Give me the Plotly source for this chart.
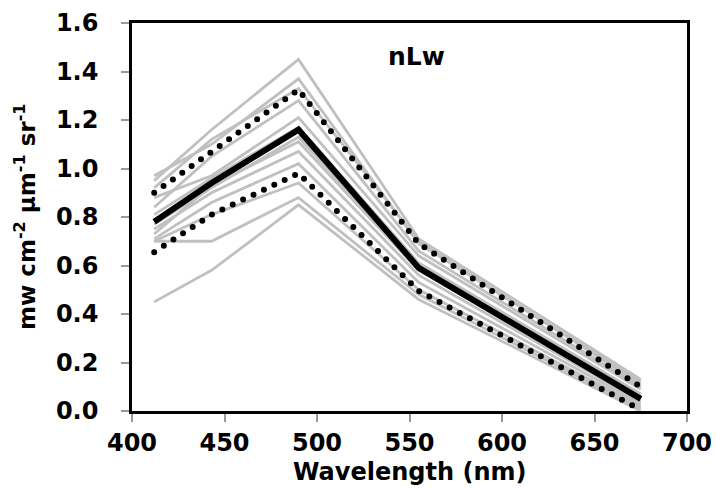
import plotly.graph_objects as go

# Band centre wavelengths (nm)
wavelength = [412, 443, 490, 555, 675]

# Individual nLw spectra (mW cm^-2 um^-1 sr^-1)
spec_01 = [0.95, 1.16, 1.45, 0.71, 0.13]
spec_02 = [0.97, 1.10, 1.37, 0.69, 0.12]
spec_03 = [0.92, 1.12, 1.33, 0.70, 0.11]
spec_04 = [0.84, 1.05, 1.28, 0.66, 0.10]
spec_05 = [0.88, 0.97, 1.21, 0.64, 0.09]
spec_06 = [0.81, 0.96, 1.17, 0.61, 0.07]
spec_07 = [0.77, 0.92, 1.13, 0.59, 0.06]
spec_08 = [0.73, 0.93, 1.11, 0.58, 0.05]
spec_09 = [0.75, 0.90, 1.07, 0.56, 0.04]
spec_10 = [0.71, 0.86, 1.02, 0.53, 0.03]
spec_11 = [0.70, 0.81, 0.94, 0.50, 0.02]
spec_12 = [0.70, 0.70, 0.88, 0.48, 0.01]
spec_13 = [0.45, 0.58, 0.85, 0.46, 0.00]
spectra = [spec_01, spec_02, spec_03, spec_04, spec_05, spec_06, spec_07,
           spec_08, spec_09, spec_10, spec_11, spec_12, spec_13]

# Mean spectrum and +/- one standard deviation
mean_nlw = [0.78, 0.94, 1.16, 0.59, 0.05]
upper_nlw = [0.90, 1.07, 1.325, 0.69, 0.10]
lower_nlw = [0.655, 0.81, 0.98, 0.495, 0.005]

x_ticks = [400, 450, 500, 550, 600, 650, 700]
y_ticks = [0.0, 0.2, 0.4, 0.6, 0.8, 1.0, 1.2, 1.4, 1.6]

FONT = "DejaVu Sans, Liberation Sans, Arial, sans-serif"

fig = go.Figure()

for s in spectra:
    fig.add_trace(go.Scatter(x=wavelength, y=s, mode="lines",
                             line=dict(color="#c0c0c0", width=2.8),
                             hoverinfo="skip", showlegend=False))

for band in (upper_nlw, lower_nlw):
    fig.add_trace(go.Scatter(x=wavelength, y=band, mode="lines",
                             line=dict(color="black", width=6, dash="0px,11.5px"),
                             hoverinfo="skip", showlegend=False))

fig.add_trace(go.Scatter(x=wavelength, y=mean_nlw, mode="lines",
                         line=dict(color="black", width=6),
                         hoverinfo="skip", showlegend=False))

axis_common = dict(
    showgrid=False, zeroline=False, automargin=False,
    showline=True, linecolor="black", linewidth=2.5, mirror=True,
    ticks="outside", tickcolor="#999999", ticklen=8, tickwidth=1.5,
    tickfont=dict(family=FONT, size=24, color="black", weight="bold"),
)

fig.update_xaxes(range=[400, 700], tickvals=x_ticks,
                 ticktext=[str(v) for v in x_ticks],
                 ticklabelstandoff=0, **axis_common)
fig.update_yaxes(range=[0, 1.6], tickvals=y_ticks,
                 ticktext=[f"{v:.1f}" for v in y_ticks],
                 ticklabelstandoff=18, **axis_common)

fig.add_annotation(text="<b>nLw</b>", xref="paper", yref="paper",
                   x=0.513, y=0.914, xanchor="center", yanchor="middle",
                   showarrow=False,
                   font=dict(family=FONT, size=25, color="black"))
fig.add_annotation(text="<b>Wavelength (nm)</b>", xref="paper", yref="paper",
                   x=0.5, y=-0.158, xanchor="center", yanchor="middle",
                   showarrow=False,
                   font=dict(family=FONT, size=24, color="black"))
fig.add_annotation(text="<b>mw cm<sup>-2</sup> \u00b5m<sup>-1</sup> sr<sup>-1</sup></b>",
                   xref="paper", yref="paper", x=-0.193, y=0.5,
                   xanchor="center", yanchor="middle",
                   textangle=-90, showarrow=False,
                   font=dict(family=FONT, size=23, color="black"))

fig.update_layout(
    width=716, height=488,
    margin=dict(l=132, r=29, t=23, b=77),
    paper_bgcolor="white", plot_bgcolor="white",
    showlegend=False,
)

# Round caps turn the zero-length dashes into round dots
round_dots = """
var gd = document.getElementById('{plot_id}');
function roundCaps() {
  gd.querySelectorAll('path.js-line').forEach(function (p) {
    var d = p.style.strokeDasharray;
    if (d && d !== 'none' && d !== '') { p.style.strokeLinecap = 'round'; }
  });
}
roundCaps();
gd.on('plotly_afterplot', roundCaps);
"""

fig.write_html("out.html", post_script=round_dots)
